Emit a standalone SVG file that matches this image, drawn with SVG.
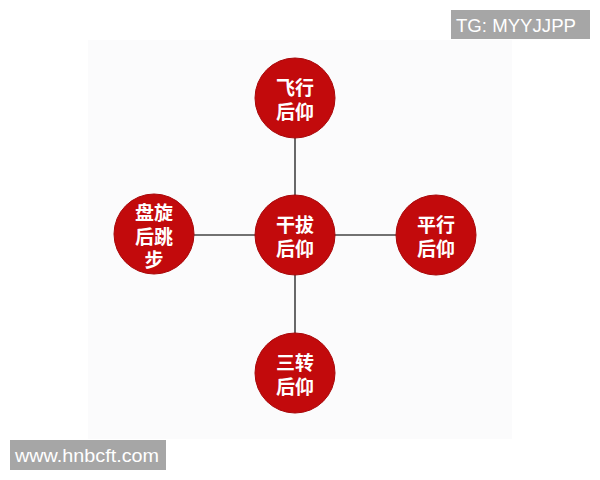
<svg xmlns="http://www.w3.org/2000/svg" width="600" height="480" viewBox="0 0 600 480">
<style>
.node circle{fill:#c20a0c;stroke:#a80608;stroke-width:1}
.node text{fill:#fff;font-family:"Noto Sans CJK SC","Noto Sans",sans-serif;font-weight:bold;font-size:19px;text-anchor:middle;dominant-baseline:central}
.wm rect{fill:#a6a6a6}
.wm text{fill:#fff;font-family:"Liberation Sans",Arial,sans-serif;font-size:19px}
#connectors line{stroke:#444;stroke-width:1.6}
</style>
<rect width="600" height="480" fill="#fff"/>
<rect x="88" y="40" width="424" height="399" fill="#fbfbfc"/>
<g id="connectors">
<line x1="295" y1="138" x2="295" y2="333"/>
<line x1="194" y1="235" x2="396" y2="235"/>
</g>
<g id="n-top" class="node">
<circle cx="295" cy="98" r="40"/>
<text><tspan x="295" y="86">飞行</tspan><tspan x="295" y="110">后仰</tspan></text>
</g>
<g id="n-center" class="node">
<circle cx="295" cy="235" r="40"/>
<text><tspan x="295" y="223">干拔</tspan><tspan x="295" y="247">后仰</tspan></text>
</g>
<g id="n-right" class="node">
<circle cx="436" cy="235" r="40"/>
<text><tspan x="436" y="223">平行</tspan><tspan x="436" y="247">后仰</tspan></text>
</g>
<g id="n-bottom" class="node">
<circle cx="295" cy="373" r="40"/>
<text><tspan x="295" y="361">三转</tspan><tspan x="295" y="385">后仰</tspan></text>
</g>
<g id="n-left" class="node">
<circle cx="154" cy="234" r="40"/>
<text><tspan x="154" y="211">盘旋</tspan><tspan x="154" y="235">后跳</tspan><tspan x="154" y="258">步</tspan></text>
</g>
<g id="wm-tg" class="wm">
<rect x="451" y="10" width="139" height="29"/>
<text x="456" y="32" textLength="120" lengthAdjust="spacingAndGlyphs">TG: MYYJJPP</text>
</g>
<g id="wm-url" class="wm">
<rect x="10" y="440" width="156" height="30"/>
<text x="15" y="462" textLength="144" lengthAdjust="spacingAndGlyphs">www.hnbcft.com</text>
</g>
</svg>
